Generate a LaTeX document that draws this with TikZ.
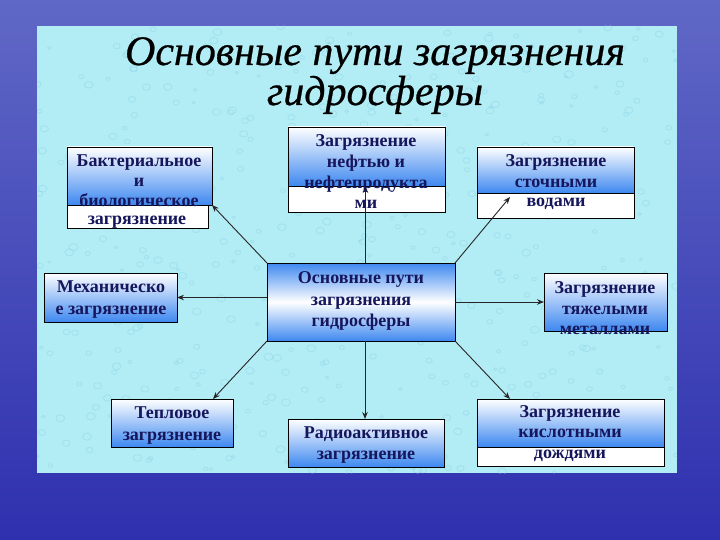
\documentclass[tikz,border=0pt]{standalone}
\usepackage{fontspec}
\setmainfont{Liberation Serif}
\newfontfamily\ttlfont{Liberation Serif}[ItalicFeatures={FakeBold=0.6}]
\usetikzlibrary{arrows.meta}
\definecolor{skytop}{HTML}{6068C6}
\definecolor{skybot}{HTML}{2E30AE}
\definecolor{panel}{HTML}{B2ECF4}
\definecolor{drop}{HTML}{86D2E6}
\definecolor{boxblue}{HTML}{3E88F0}
\definecolor{navy}{HTML}{16165C}
\tikzset{
  gbox/.style={draw=black, line width=0.9pt, top color=white, bottom color=boxblue, inner sep=0pt, outer sep=0pt, anchor=north west},
  cbox/.style={draw=black, line width=0.9pt, top color=boxblue, bottom color=boxblue, middle color=white, inner sep=0pt, outer sep=0pt, anchor=north west},
  wbox/.style={draw=black, line width=0.9pt, fill=white, inner sep=0pt, outer sep=0pt, anchor=north west},
  txt/.style={font=\fontsize{18}{18}\selectfont\bfseries, text=navy, inner sep=0pt, anchor=base},
  ttl/.style={font=\ttlfont\fontsize{42}{42}\selectfont\itshape, text=black, inner sep=0pt, anchor=base},
  conn/.style={draw=black!85, line width=0.9pt, -{Stealth[length=7pt,width=5.5pt]}}
}
\begin{document}
\begin{tikzpicture}[x=1pt,y=-1pt]
\useasboundingbox (0,0) rectangle (720,540);
\shade[top color=skytop, bottom color=skybot] (0,0) rectangle (720,540);
\fill[panel] (37,26) rectangle (677,473);
% water-drop texture
\pgfmathsetseed{7}
\begin{scope}
\clip (37,26) rectangle (677,473);
\foreach \i in {1,...,480}{
  \pgfmathsetmacro{\px}{37+640*rnd}
  \pgfmathsetmacro{\py}{26+447*rnd}
  \pgfmathsetmacro{\pr}{1.5+3*rnd}
  \draw[drop, line width=0.8pt, opacity=0.4] (\px,\py) ellipse[x radius=\pr pt, y radius=0.8*\pr pt];
}
\end{scope}
% title
\node[ttl] (title1) at (375,65) {Основные пути загрязнения};
\node[ttl] (title2) at (375,105) {гидросферы};
% boxes
\node[wbox, minimum width=141pt, minimum height=23pt] (bactW) at (67,205) {};
\node[gbox, minimum width=145pt, minimum height=58pt] (bact) at (67,147) {};
\node[wbox, minimum width=157pt, minimum height=26pt] (oilW) at (288,186) {};
\node[gbox, minimum width=157pt, minimum height=59pt] (oil) at (288,127) {};
\node[wbox, minimum width=157pt, minimum height=25pt] (sewW) at (477,193) {};
\node[gbox, minimum width=157pt, minimum height=46pt] (sew) at (477,147) {};
\node[gbox, minimum width=133pt, minimum height=49pt] (mech) at (44,273) {};
\node[cbox, minimum width=188pt, minimum height=78pt] (ctr) at (267,263) {};
\node[gbox, minimum width=123pt, minimum height=58pt] (heavy) at (544,273) {};
\node[gbox, minimum width=122pt, minimum height=48pt] (therm) at (111,399) {};
\node[gbox, minimum width=156pt, minimum height=48pt] (radio) at (288,419) {};
\node[wbox, minimum width=187pt, minimum height=19pt] (acidW) at (477,447) {};
\node[gbox, minimum width=187pt, minimum height=48pt] (acid) at (477,399) {};
% connectors
\draw[conn] ([xshift=-1pt]oil.south |- ctr.north) -- ([xshift=-1pt]oil.south);
\draw[conn] (ctr.north west) -- (bact.south east);
\draw[conn] (ctr.north east) -- ([xshift=33pt,yshift=-4pt]sew.south west);
\draw[conn] (ctr.west |- mech.east) -- (mech.east);
\draw[conn] (ctr.east |- heavy.west) -- (heavy.west);
\draw[conn] (ctr.south west) -- ([xshift=-20pt]therm.north east);
\draw[conn] ([xshift=-1pt]radio.north |- ctr.south) -- ([xshift=-1pt]radio.north);
\draw[conn] (ctr.south east) -- ([xshift=33pt]acid.north west);
% texts
\node[txt] (bt1) at (139,167) {Бактериальное};
\node[txt] (bt2) at (139,187) {и};
\node[txt] (bt3) at (139,207) {биологическое};
\node[txt] (bt4) at (137,225) {загрязнение};
\node[txt] (ot1) at (366,147) {Загрязнение};
\node[txt] (ot2) at (366,168) {нефтью и};
\node[txt] (ot3) at (366,189) {нефтепродукта};
\node[txt] (ot4) at (366,209) {ми};
\node[txt] (st1) at (556,167) {Загрязнение};
\node[txt] (st2) at (556,188) {сточными};
\node[txt] (st3) at (556,207) {водами};
\node[txt] (mt1) at (111,292) {Механическо};
\node[txt] (mt2) at (111,314) {е загрязнение};
\node[txt] (ct1) at (361,283) {Основные пути};
\node[txt] (ct2) at (361,305) {загрязнения};
\node[txt] (ct3) at (361,326) {гидросферы};
\node[txt] (ht1) at (605,293) {Загрязнение};
\node[txt] (ht2) at (605,314) {тяжелыми};
\node[txt] (ht3) at (605,334) {металлами};
\node[txt] (tt1) at (172,418) {Тепловое};
\node[txt] (tt2) at (172,440) {загрязнение};
\node[txt] (rt1) at (366,438) {Радиоактивное};
\node[txt] (rt2) at (366,459) {загрязнение};
\node[txt] (at1) at (570,417) {Загрязнение};
\node[txt] (at2) at (570,437) {кислотными};
\node[txt] (at3) at (570,458) {дождями};
\end{tikzpicture}
\end{document}
